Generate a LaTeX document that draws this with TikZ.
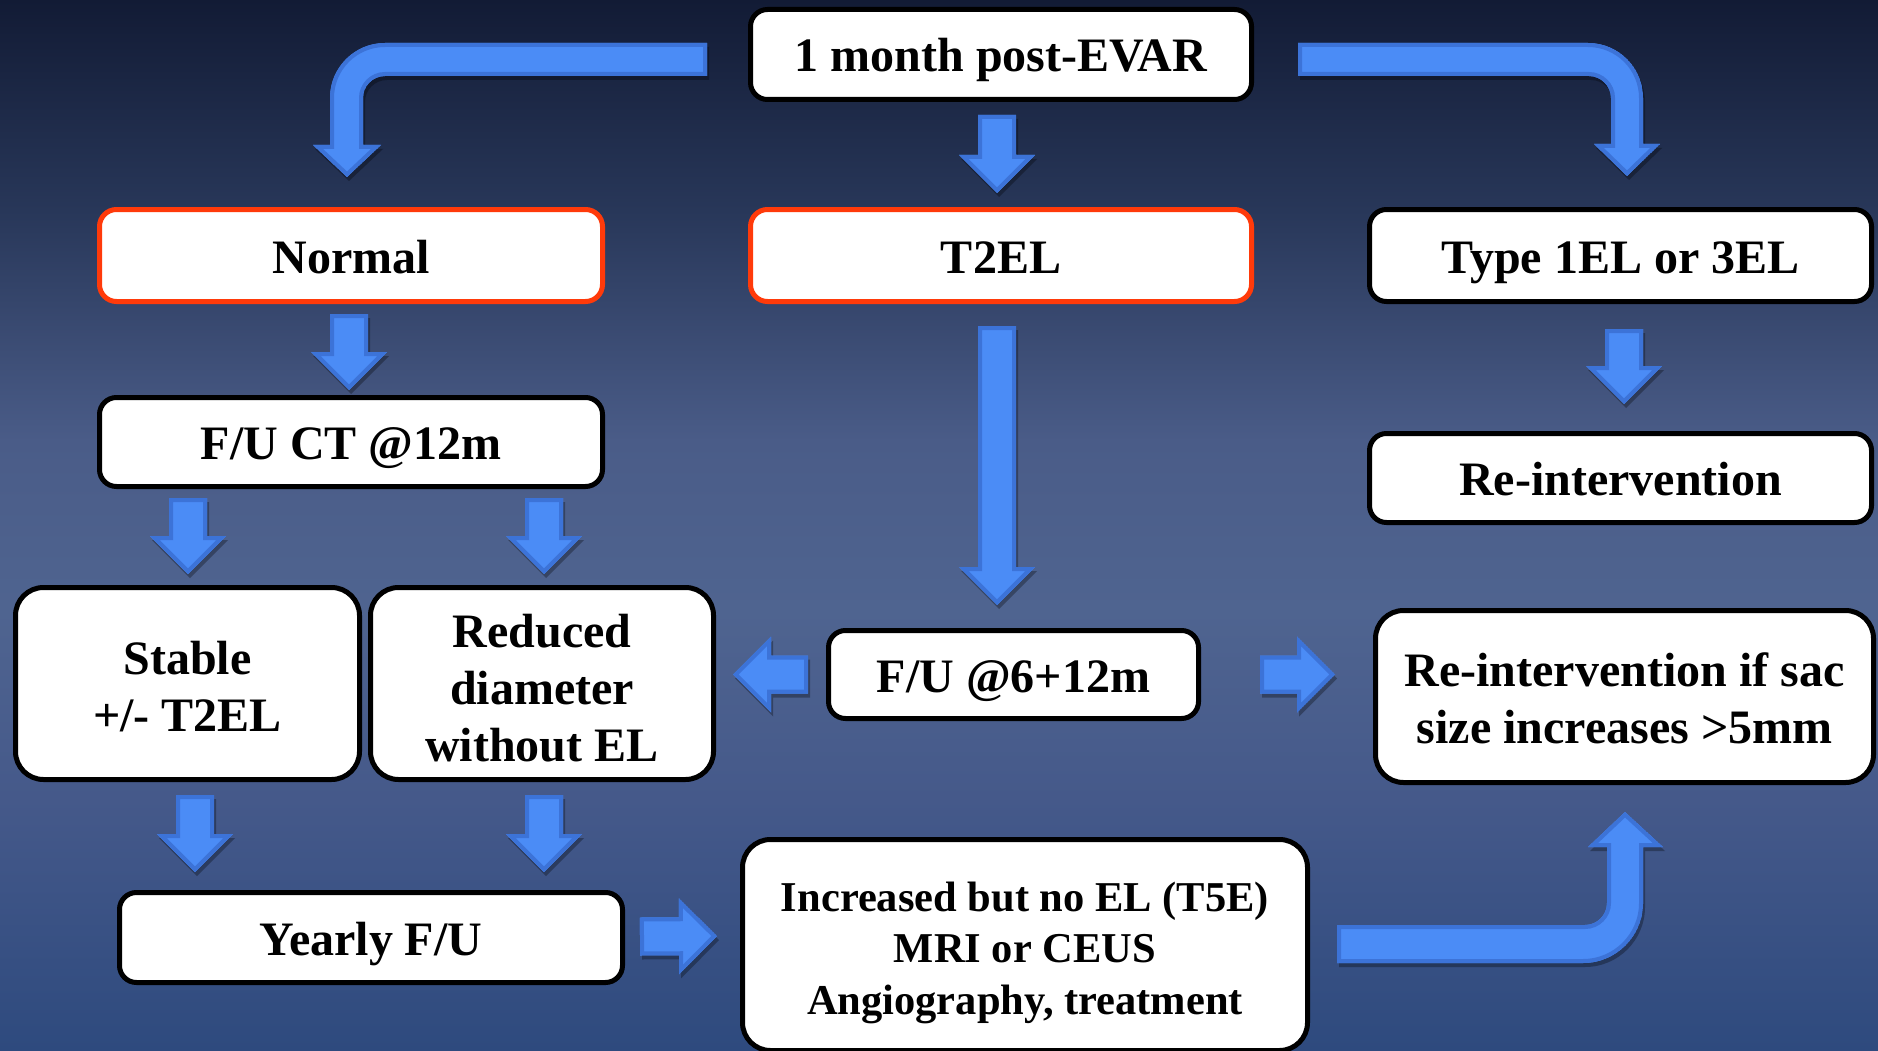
\documentclass[tikz,border=0pt]{standalone}
\usepackage{fontspec}
\setmainfont{Liberation Serif}
\usetikzlibrary{calc}
\definecolor{arrowmain}{HTML}{4B8CF6}
\definecolor{arrowrim}{HTML}{3C73D8}
\definecolor{redborder}{HTML}{FF3A0A}
\definecolor{bgA}{HTML}{2E4A7E}
\definecolor{bgB}{HTML}{45598A}
\definecolor{bgC}{HTML}{4F6490}
\definecolor{bgD}{HTML}{4A5C88}
\definecolor{bgE}{HTML}{283759}
\definecolor{bgF}{HTML}{121B35}
\pgfdeclareverticalshading{bgshade}{100bp}{color(0bp)=(bgA); color(25bp)=(bgA); color(37bp)=(bgB); color(46bp)=(bgC); color(54bp)=(bgD); color(65bp)=(bgE); color(75bp)=(bgF); color(100bp)=(bgF)}
\tikzset{
  box/.style={draw=black, line width=5pt, fill=white, rounded corners=17pt, inner sep=0pt, align=center, font=\bfseries\fontsize{48}{57}\selectfont},
  oneline/.style={text height=39pt, text depth=4pt},
  redbox/.style={box, oneline, draw=redborder},
  tallbox/.style={box, rounded corners=28pt},
  shadowfill/.style={fill=black, opacity=.3},
}
\def\barrpath{(0,-19) -- ({\barLen-38},-19) -- ({\barLen-38},-38) -- (\barLen,0) -- ({\barLen-38},38) -- ({\barLen-38},19) -- (0,19) -- cycle}
\newcommand\barr[2]{%
  \path let \p1=#1, \p2=#2 in \pgfextra{%
    \pgfmathsetmacro\barAng{atan2(\y2-\y1,\x2-\x1)}%
    \pgfmathsetmacro\barLen{veclen(\x2-\x1,\y2-\y1)}%
    \pgfmathsetmacro\barX{\x1}\pgfmathsetmacro\barY{\y1}%
    \xdef\barAng{\barAng}\xdef\barLen{\barLen}\xdef\barX{\barX}\xdef\barY{\barY}};
  \begin{scope}[shift={(\barX pt + 2pt, \barY pt - 4pt)}, rotate=\barAng]
    \fill[shadowfill] \barrpath;
  \end{scope}
  \begin{scope}[shift={(\barX pt, \barY pt)}, rotate=\barAng]
    \begin{scope}
      \clip \barrpath;
      \fill[arrowmain] \barrpath;
      \draw[arrowrim, line width=8pt] \barrpath;
    \end{scope}
  \end{scope}}
\newcommand\bentarr[1]{%
  \fill[shadowfill, shift={(2,4)}] #1;
  \begin{scope}
    \clip #1;
    \fill[arrowmain] #1;
    \draw[arrowrim, line width=8pt] #1;
  \end{scope}}
\begin{document}
\begin{tikzpicture}[x=1pt, y=-1pt]
\useasboundingbox (0,0) rectangle (1878,1051);
\shade[shading=bgshade] (0,0) rectangle (1878,1051);

% boxes
\node[box, oneline, minimum width=501pt, minimum height=90pt] (month) at (1001,54.5) {1 month post-EVAR};
\node[redbox, minimum width=503pt, minimum height=92pt] (normal) at (351,255.5) {Normal};
\node[redbox, minimum width=501pt, minimum height=92pt] (t2el) at (1001,255.5) {T2EL};
\node[box, oneline, minimum width=502pt, minimum height=92pt] (type1) at (1620.5,255.5) {Type 1EL or 3EL};
\node[box, oneline, minimum width=503pt, minimum height=89pt] (fuct) at (351,442) {F/U CT @12m};
\node[box, oneline, minimum width=502pt, minimum height=89pt] (reint) at (1620.5,478) {Re-intervention};
\node[tallbox, minimum width=344pt, minimum height=192pt] (stable) at (187.5,683.5) {\rule{0pt}{39pt}Stable\\+/- T2EL};
\node[tallbox, minimum width=343pt, minimum height=192pt] (reduced) at (542,683.5) {\rule{0pt}{43pt}Reduced\\diameter\\without EL};
\node[box, oneline, minimum width=370pt, minimum height=88pt] (fu6) at (1013.5,674.5) {F/U @6+12m};
\node[tallbox, minimum width=498pt, minimum height=172pt] (resac) at (1624.5,696.5) {\rule{0pt}{38pt}Re-intervention if sac\\size increases >5mm};
\node[box, oneline, minimum width=503pt, minimum height=90pt] (yearly) at (371,937.5) {Yearly F/U};
\node[tallbox, minimum width=565pt, minimum height=211pt, font=\bfseries\fontsize{42.5}{51.5}\selectfont] (incr) at (1025,945) {\rule{0pt}{45pt}Increased but no EL (T5E)\\MRI or CEUS\\Angiography, treatment};

% straight block arrows
\barr{($(month.south)+(-4,13)$)}{($(t2el.north)+(-4,-14)$)}
\barr{($(normal.south)+(-2,10)$)}{($(fuct.north)+(-2,-5)$)}
\barr{($(fuct.south west)+(91,9)$)}{($(stable.north)+(0.5,-11)$)}
\barr{($(fuct.south east)+(-61,9)$)}{($(reduced.north)+(2,-11)$)}
\barr{($(t2el.south)+(-4,22)$)}{($(fu6.north)+(-16.5,-23)$)}
\barr{($(type1.south)+(3.5,25)$)}{($(reint.north)+(3.5,-27)$)}
\barr{($(fu6.west)+(-18,0)$)}{($(reduced.east)+(17,-9)$)}
\barr{($(fu6.east)+(59,0)$)}{($(resac.west)+(-38,-22)$)}
\barr{($(stable.south)+(7.5,13)$)}{($(yearly.north west)+(78,-18)$)}
\barr{($(reduced.south)+(2,13)$)}{($(yearly.north west)+(427,-18)$)}
\barr{($(yearly.east)+(15,-1)$)}{($(incr.west)+(-23,-9)$)}

% bent block arrows
\bentarr{(707,43) -- (385,43) .. controls (354.6,43) and (330,67.6) .. (330,98) -- (330,145) -- (313,145) -- (347,177) -- (381,145) -- (363,145) -- (363,98) .. controls (363,85.85) and (372.85,76) .. (385,76) -- (707,76) -- cycle}
\bentarr{(1298,43) -- (1588,43) .. controls (1618.4,43) and (1643,67.6) .. (1643,98) -- (1643,144) -- (1660,144) -- (1627,176) -- (1594,144) -- (1611,144) -- (1611,98) .. controls (1611,85.85) and (1600.85,76) .. (1589,76) -- (1298,76) -- cycle}
\bentarr{(1337,925) -- (1585,925) .. controls (1597.15,925) and (1607,915.15) .. (1607,903) -- (1607,847) -- (1588,847) -- (1625,812) -- (1663,847) -- (1643,847) -- (1643,903) .. controls (1643,936.1) and (1616.1,963) .. (1583,963) -- (1337,963) -- cycle}
\end{tikzpicture}
\end{document}
